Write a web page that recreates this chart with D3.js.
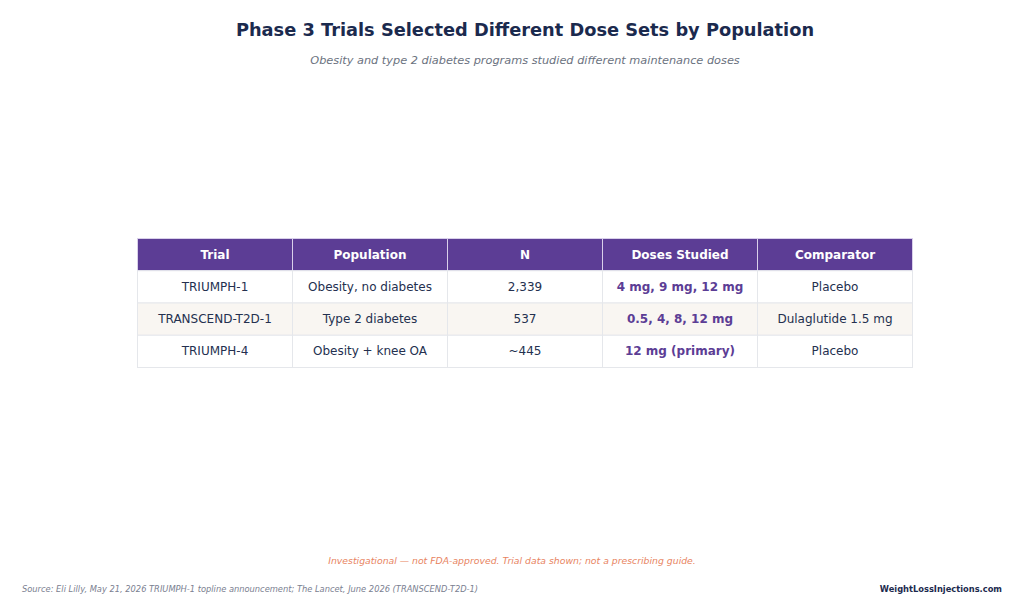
<!DOCTYPE html>
<html lang="en">
<head>
  <meta charset="UTF-8">
  <title>Phase 3 Trials Selected Different Dose Sets by Population</title>
  <script src="https://d3js.org/d3.v7.min.js"></script>
  <style>
    body { margin: 0; background: #fff; }
    svg { display: block; font-family: "DejaVu Sans", sans-serif; }
  </style>
</head>
<body>
  <script>
    const width = 1024, height = 615;

    const columns = ['Trial', 'Population', 'N', 'Doses Studied', 'Comparator'];
    const trials = ['TRIUMPH-1', 'TRANSCEND-T2D-1', 'TRIUMPH-4'];
    const populations = ['Obesity, no diabetes', 'Type 2 diabetes', 'Obesity + knee OA'];
    const enrolled = ['2,339', '537', '~445'];
    const doses = ['4 mg, 9 mg, 12 mg', '0.5, 4, 8, 12 mg', '12 mg (primary)'];
    const comparators = ['Placebo', 'Dulaglutide 1.5 mg', 'Placebo'];

    const rows = trials.map((t, i) => [t, populations[i], enrolled[i], doses[i], comparators[i]]);

    const svg = d3.select('body')
      .append('svg')
      .attr('width', width)
      .attr('height', height);

    const x = d3.scaleBand().domain(d3.range(columns.length)).range([137.5, 912.5]);
    const y = d3.scaleBand().domain(d3.range(rows.length + 1)).range([238.5, 367.5]);
    const cx = (137.5 + 912.5) / 2;

    // title + subtitle, centred over the table
    svg.append('text')
      .attr('x', cx).attr('y', 36)
      .attr('text-anchor', 'middle')
      .style('font-size', '17.8px').style('font-weight', 'bold')
      .style('fill', '#1b2a4e')
      .text('Phase 3 Trials Selected Different Dose Sets by Population');

    svg.append('text')
      .attr('x', cx).attr('y', 64)
      .attr('text-anchor', 'middle')
      .style('font-size', '11.3px').style('font-style', 'italic')
      .style('fill', '#6b7280')
      .text('Obesity and type 2 diabetes programs studied different maintenance doses');

    // table
    const header = svg.append('g');
    header.selectAll('rect')
      .data(columns)
      .join('rect')
      .attr('x', (d, i) => x(i))
      .attr('y', y(0))
      .attr('width', x.bandwidth())
      .attr('height', y.bandwidth())
      .attr('fill', '#5c3d95')
      .attr('stroke', '#d9d0ea')
      .attr('stroke-width', 1);
    header.selectAll('text')
      .data(columns)
      .join('text')
      .attr('x', (d, i) => x(i) + x.bandwidth() / 2)
      .attr('y', y(0) + y.bandwidth() / 2)
      .attr('text-anchor', 'middle')
      .attr('dominant-baseline', 'central')
      .style('font-size', '12px').style('font-weight', 'bold')
      .style('fill', '#ffffff')
      .text(d => d);

    const body = svg.append('g');
    rows.forEach((row, r) => {
      const g = body.append('g');
      g.selectAll('rect')
        .data(row)
        .join('rect')
        .attr('x', (d, i) => x(i))
        .attr('y', y(r + 1))
        .attr('width', x.bandwidth())
        .attr('height', y.bandwidth())
        .attr('fill', r % 2 === 1 ? '#f9f6f2' : '#ffffff')
        .attr('stroke', '#e5e7eb')
        .attr('stroke-width', 1);
      g.selectAll('text')
        .data(row)
        .join('text')
        .attr('x', (d, i) => x(i) + x.bandwidth() / 2)
        .attr('y', y(r + 1) + y.bandwidth() / 2)
        .attr('text-anchor', 'middle')
        .attr('dominant-baseline', 'central')
        .style('font-size', '12px')
        .style('font-weight', (d, i) => i === 3 ? 'bold' : 'normal')
        .style('fill', (d, i) => i === 3 ? '#5c3d95' : '#24304f')
        .text(d => d);
    });

    // footer
    svg.append('text')
      .attr('x', width / 2).attr('y', 564)
      .attr('text-anchor', 'middle')
      .style('font-size', '9.3px').style('font-style', 'italic')
      .style('fill', '#e8845f')
      .text('Investigational \u2014 not FDA-approved. Trial data shown; not a prescribing guide.');

    svg.append('text')
      .attr('x', 22).attr('y', 592)
      .style('font-size', '8.3px').style('font-style', 'italic')
      .style('fill', '#7a8090')
      .text('Source: Eli Lilly, May 21, 2026 TRIUMPH-1 topline announcement; The Lancet, June 2026 (TRANSCEND-T2D-1)');

    svg.append('text')
      .attr('x', 1002).attr('y', 592)
      .attr('text-anchor', 'end')
      .style('font-size', '8.3px').style('font-weight', 'bold')
      .style('fill', '#1b2a4e')
      .text('WeightLossInjections.com');
  </script>
</body>
</html>
